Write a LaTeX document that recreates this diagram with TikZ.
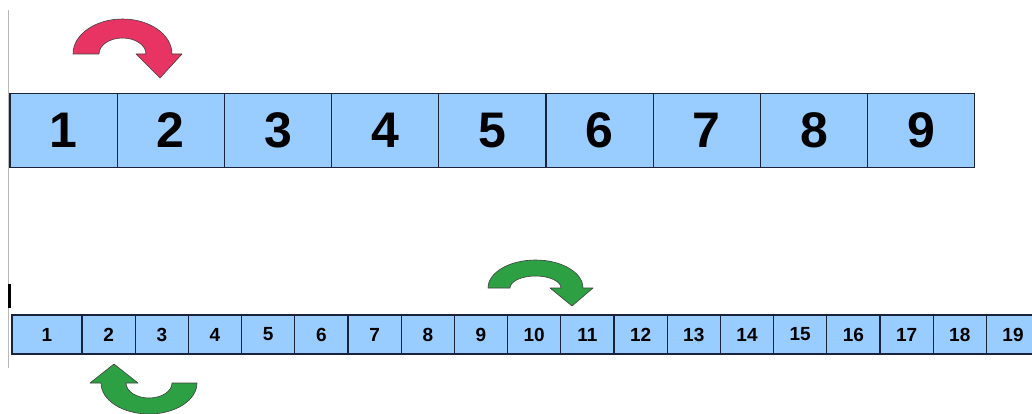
\documentclass[tikz,border=0pt]{standalone}
\usepackage{fontspec}
\setmainfont{Liberation Sans}
\definecolor{cellblue}{RGB}{153,204,255}
\definecolor{celledge}{RGB}{25,35,60}
\definecolor{arrred}{RGB}{232,52,98}
\definecolor{arrgreen}{RGB}{46,160,68}
\tikzset{
  cellbase/.style={draw=celledge, fill=cellblue, line width=1.2pt, inner sep=0pt, text=black},
  celltop/.style={cellbase, minimum width=107.2pt, minimum height=74.5pt, font=\fontsize{50}{50}\selectfont\bfseries},
  cellbot/.style={cellbase, minimum width=53.2pt, minimum height=39pt, font=\fontsize{19}{19}\selectfont\bfseries},
  cellbotwide/.style={cellbot, minimum width=70pt},
  bendarrow/.style={draw=black!75, line width=0.6pt, line join=round},
}
\begin{document}
\begin{tikzpicture}[x=1pt,y=-1pt]
\clip (0,0) rectangle (1032,414);
\fill[white] (0,0) rectangle (1032,414);
% left margin line and cursor bar
\draw[gray!55, line width=0.8pt] (8.5,10) -- (8.5,368);
\draw[black, line width=2.6pt] (9.5,284) -- (9.5,308);
% top row
\foreach \i in {1,...,9} {
  \node[celltop] (t\i) at ({10+107.2*(\i-0.5)},130.5) {\i};
}
% bottom row
\node[cellbotwide] (b1) at (47,334.5) {1};
\foreach \i in {2,...,19} {
  \node[cellbot] (b\i) at ({82+53.2*(\i-1.5)},334.5) {\i};
}
% red arrow above 1 -> 2
\filldraw[bendarrow, fill=arrred]
  (73,54) arc[start angle=180, end angle=0, x radius=49.5pt, y radius=35pt]
  -- (182,54) -- (160,78) -- (136,54) -- (146,54)
  arc[start angle=0, end angle=180, x radius=23.5pt, y radius=16pt] -- cycle;
% green arrow above 10 -> 11
\filldraw[bendarrow, fill=arrgreen]
  (488,288) arc[start angle=180, end angle=0, x radius=47.5pt, y radius=28pt]
  -- (593,288) -- (572,306) -- (550,288) -- (561,288)
  arc[start angle=0, end angle=180, x radius=25.5pt, y radius=12pt] -- cycle;
% green arrow below 3 -> 2
\filldraw[bendarrow, fill=arrgreen]
  (197,383) arc[start angle=0, end angle=-180, x radius=48pt, y radius=31pt]
  -- (90,383) -- (114,364) -- (138,383) -- (126,383)
  arc[start angle=180, end angle=360, x radius=23pt, y radius=15pt] -- cycle;
\end{tikzpicture}
\end{document}
